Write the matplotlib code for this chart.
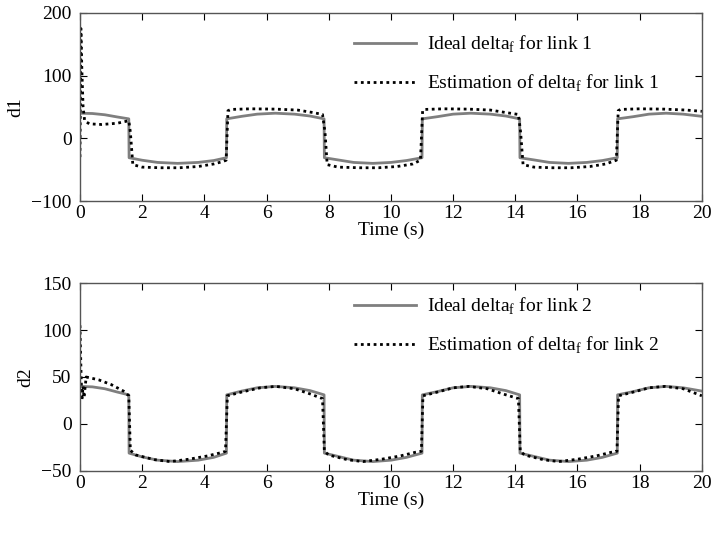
import matplotlib
matplotlib.use("Agg")
import matplotlib.pyplot as plt

# ---------------- data ----------------
t_ideal1 = [0, 0.4, 0.8, 1.2, 1.57, 1.58, 2.0, 2.5, 3.14, 3.8, 4.3, 4.71,
            4.72, 5.2, 5.7, 6.28, 6.9, 7.4, 7.85, 7.86, 8.3, 8.8, 9.42, 10.0,
            10.5, 11.0, 11.01, 11.5, 12.0, 12.57, 13.2, 13.7, 14.14, 14.15,
            14.6, 15.1, 15.71, 16.3, 16.8, 17.28, 17.29, 17.8, 18.3, 18.85,
            19.4, 20.0]
ideal_d1 = [40, 39.5, 37.5, 34, 31, -31, -35, -38.5, -40, -38.5, -35.5, -31,
            31, 35, 38.5, 40, 38.5, 35.5, 31, -31, -34.5, -38.5, -40, -38.5,
            -35.5, -31, 31, 34.5, 38.5, 40, 38.5, 35.5, 31, -31, -34.5, -38.5,
            -40, -38.5, -35.5, -31, 31, 34.5, 38.5, 40, 38.5, 35]

t_est1 = [0, 0.03, 0.06, 0.1, 0.15, 0.3, 0.7, 1.2, 1.57,
          1.62, 1.7, 2.0, 2.6, 3.2, 3.8, 4.3, 4.6, 4.7,
          4.76, 4.85, 5.5, 6.3, 7.0, 7.5, 7.8,
          7.88, 7.95, 8.3, 9.0, 9.6, 10.2, 10.7, 10.95,
          11.02, 11.08, 11.7, 12.5, 13.2, 13.7, 14.1,
          14.17, 14.25, 14.6, 15.2, 15.8, 16.4, 16.9, 17.25,
          17.31, 17.38, 18.0, 18.8, 19.5, 20.0]
est_d1 = [-30, 175, 110, 50, 28, 23, 22, 24, 28,
          10, -42, -46, -47, -47, -45, -41, -37, -35,
          44, 46, 47, 46.5, 45, 41, 38,
          10, -42, -46, -47, -47, -45, -41, -35,
          44, 46, 47, 46.5, 45, 41, 38,
          10, -42, -46, -47, -47, -45, -41, -35,
          44, 46, 47, 46.5, 45, 43]

t_ideal2 = list(t_ideal1)
ideal_d2 = list(ideal_d1)

t_est2 = [0, 0.03, 0.06, 0.1, 0.13, 0.2, 0.6, 1.0, 1.4, 1.57,
          1.62, 1.8, 2.4, 2.9, 3.5, 4.1, 4.6, 4.68,
          4.74, 5.2, 5.8, 6.3, 6.9, 7.4, 7.8,
          7.86, 8.0, 8.6, 9.1, 9.7, 10.3, 10.8, 10.98,
          11.03, 11.5, 12.0, 12.5, 13.1, 13.6, 14.1,
          14.16, 14.3, 14.9, 15.4, 16.0, 16.6, 17.1, 17.27,
          17.32, 17.8, 18.3, 18.8, 19.4, 20.0]
est_d2 = [105, 60, 25, 40, 28, 50, 47, 42, 35, 30,
          -28, -33, -38, -40, -37.5, -34, -30, -29,
          30, 34, 38.5, 40, 37.5, 32, 27,
          -29, -33, -38, -40, -37.5, -34, -30, -29,
          30, 34, 38.5, 40, 37.5, 32, 27,
          -29, -33, -38, -40, -37.5, -34, -30, -29,
          30, 34, 38.5, 40, 37.5, 30]

xticks = [0, 2, 4, 6, 8, 10, 12, 14, 16, 18, 20]
yticks1 = [-100, 0, 100, 200]
yticks2 = [-50, 0, 50, 100, 150]
labels1 = ["Ideal delta$_\\mathregular{f}$ for link 1",
           "Estimation of delta$_\\mathregular{f}$ for link 1"]
labels2 = ["Ideal delta$_\\mathregular{f}$ for link 2",
           "Estimation of delta$_\\mathregular{f}$ for link 2"]

# ---------------- style ----------------
plt.rcParams['font.family'] = ['Liberation Serif', 'DejaVu Serif']
plt.rcParams['mathtext.fontset'] = 'custom'
plt.rcParams['mathtext.rm'] = 'Liberation Serif'
FS = 14

fig = plt.figure(figsize=(7.14, 5.36), dpi=100)
ax1 = fig.add_axes([0.112, 0.625, 0.871, 0.351])
ax2 = fig.add_axes([0.112, 0.1213, 0.871, 0.3507])

gray = '#7f7f7f'
for ax, ti, yi, te, ye, yt, yl, labs, ylab, anchor_y in [
        (ax1, t_ideal1, ideal_d1, t_est1, est_d1, yticks1, (-100, 200), labels1, 'd1', 0.89),
        (ax2, t_ideal2, ideal_d2, t_est2, est_d2, yticks2, (-50, 150), labels2, 'd2', 0.93)]:
    ax.plot(ti, yi, color=gray, lw=2.0, label=labs[0])
    ax.plot(te, ye, color='black', lw=2.0, linestyle=(0, (1, 1.3)), label=labs[1])
    ax.set_xlim(0, 20)
    ax.set_ylim(*yl)
    ax.set_xticks(xticks)
    ax.set_yticks(yt)
    ax.set_yticklabels(['\u2212' + str(-v) if v < 0 else str(v) for v in yt])
    ax.tick_params(direction='in', top=True, right=True, length=5,
                   labelsize=FS, colors='black')
    ax.tick_params(axis='y', pad=6)
    ax.tick_params(axis='x', pad=3)
    for s in ax.spines.values():
        s.set_color('#555555')
        s.set_linewidth(1.0)
    ax.set_xlabel('Time (s)', fontsize=FS, labelpad=0)
    ax.set_ylabel(ylab, fontsize=FS, labelpad=5)
    leg = ax.legend(loc='upper left', bbox_to_anchor=(0.44, anchor_y),
                    frameon=False, fontsize=FS, handlelength=3.2,
                    handletextpad=0.6, labelspacing=0.9,
                    borderpad=0, borderaxespad=0)

fig.savefig('out.png', dpi=100)
